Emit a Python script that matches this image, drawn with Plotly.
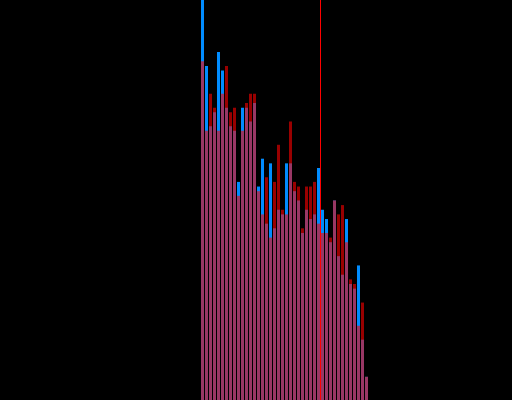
"""Overlaid two-series histogram on black, with a red marker line."""
import plotly.graph_objects as go

# data (counts per bin)
BINS = [0, 1, 2, 3, 4, 5, 6, 7, 8, 9,
        10, 11, 12, 13, 14, 15, 16, 17, 18, 19,
        20, 21, 22, 23, 24, 25, 26, 27, 28, 29,
        30, 31, 32, 33, 34, 35, 36, 37, 38, 39,
        40, 41]
BLUE_COUNTS = [88, 72, 59, 62, 75, 71, 63, 59, 58, 47,
               63, 63, 60, 64, 46, 52, 38, 51, 37, 41,
               40, 51, 51, 45, 43, 36, 41, 39, 40, 50,
               41, 39, 34, 43, 31, 27, 39, 25, 24, 29,
               13, 5]
RED_COUNTS = [73, 58, 66, 63, 58, 66, 72, 62, 63, 44,
              58, 64, 66, 66, 45, 40, 48, 35, 47, 55,
              41, 40, 60, 47, 46, 37, 46, 46, 47, 38,
              36, 36, 35, 43, 40, 42, 34, 26, 25, 16,
              21, 5]
MARKER_X = 29.5

BG = "#000000"
BLUE = "#008cff"
RED = "#ff0000"

fig = go.Figure()
fig.add_trace(go.Bar(x=BINS, y=BLUE_COUNTS, name="A", marker=dict(color=BLUE, line=dict(width=0))))
fig.add_trace(go.Bar(x=BINS, y=RED_COUNTS, name="B", opacity=0.6,
                     marker=dict(color=RED, line=dict(width=0))))
fig.add_vline(x=MARKER_X, line=dict(color=RED, width=1))

fig.update_layout(
    width=512, height=400, margin=dict(l=0, r=0, t=0, b=0),
    paper_bgcolor=BG, plot_bgcolor=BG, barmode="overlay", bargap=0.25,
    showlegend=False,
)
fig.update_xaxes(visible=False, range=[-50.625, 77.375])
fig.update_yaxes(visible=False, range=[0, 86.2])

# page itself black and edge to edge, like the reference
fig.write_html(
    "out.html",
    config={"displayModeBar": False},
    post_script="document.body.style.margin='0';document.body.style.background='#000';",
)
